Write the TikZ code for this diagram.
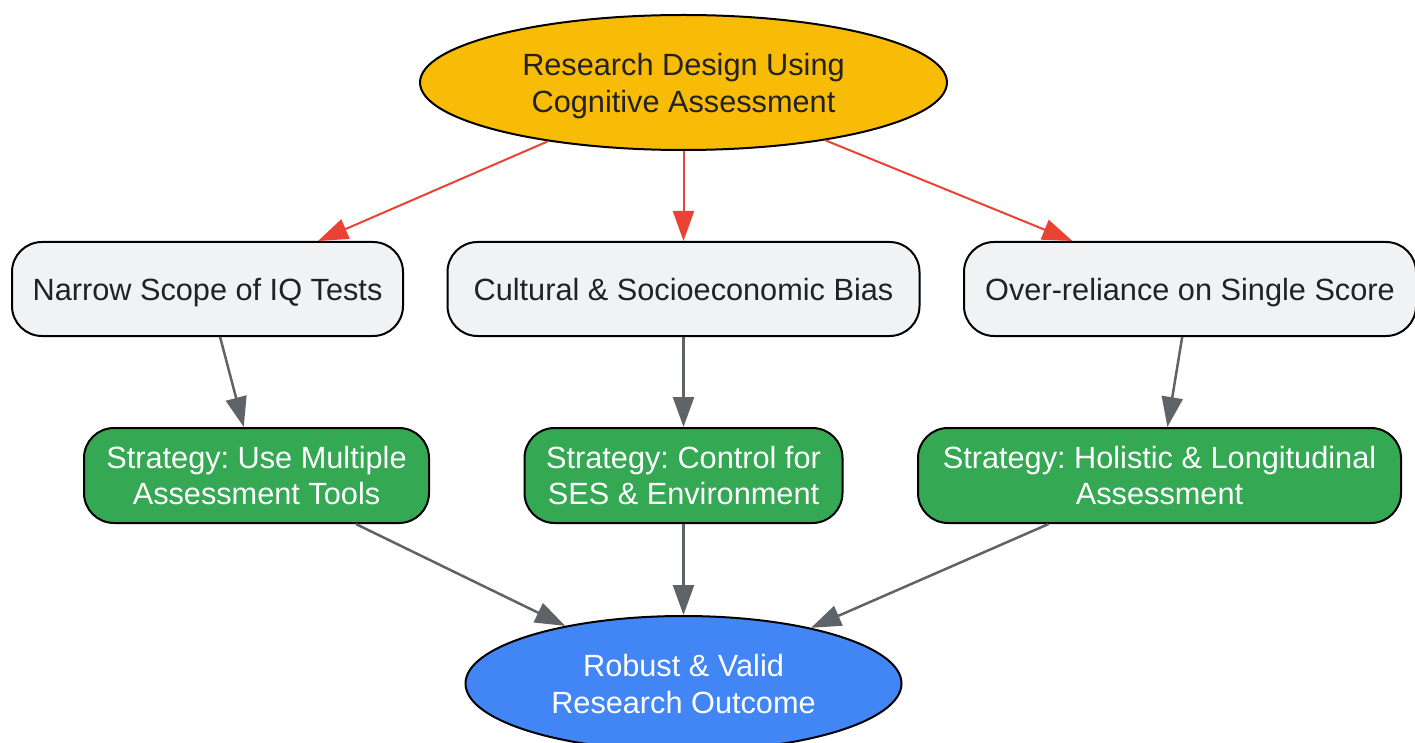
\documentclass[tikz,border=0pt]{standalone}
\usepackage{fontspec}
\setmainfont{Liberation Sans}
\usetikzlibrary{shapes.geometric,arrows.meta}
\definecolor{goldfill}{HTML}{F9BC06}
\definecolor{greyfill}{HTML}{F1F2F4}
\definecolor{greenfill}{HTML}{34A853}
\definecolor{bluefill}{HTML}{4285F4}
\definecolor{redline}{HTML}{EA4335}
\definecolor{greyline}{HTML}{5F6368}
\definecolor{inkdark}{HTML}{222222}
\frenchspacing
\begin{document}
\begin{tikzpicture}[x=1pt, y=-1pt, font=\fontsize{30.7}{36.8}\selectfont,
  oval/.style={ellipse, draw=black, line width=2pt, inner sep=0pt, align=center, text depth=0pt},
  issue/.style={rectangle, rounded corners=30pt, draw=black, line width=2pt, fill=greyfill, text=inkdark, minimum height=94pt, inner sep=0pt, align=center, text height=22pt, text depth=0pt},
  fix/.style={rectangle, rounded corners=30pt, draw=black, line width=2pt, fill=greenfill, text=white, minimum height=95pt, inner sep=0pt, align=center},
  cause/.style={-{Triangle[length=30pt,width=21pt]}, redline, line width=2pt},
  flow/.style={-{Triangle[length=30pt,width=21pt]}, greyline, line width=2.5pt}]
\useasboundingbox (0,0) rectangle (1415,743);

\node[oval, fill=goldfill, text=inkdark, minimum width=527pt, minimum height=135pt] (design) at (683.5,82.5) {Research Design Using\\Cognitive Assessment};

\node[issue, minimum width=391pt] (scope) at (207.5,289) {Narrow Scope of IQ Tests};
\node[issue, minimum width=472pt] (bias) at (683.5,289) {Cultural \& Socioeconomic Bias};
\node[issue, minimum width=452pt] (score) at (1190,289) {Over-reliance on Single Score};

\node[fix, minimum width=345pt] (tools) at (256.5,475.5) {Strategy: Use Multiple\\Assessment Tools};
\node[fix, minimum width=318pt] (ses) at (683.5,475.5) {Strategy: Control for\\SES \& Environment};
\node[fix, minimum width=483pt] (holistic) at (1159.5,475.5) {Strategy: Holistic \& Longitudinal\\Assessment};

\node[oval, fill=bluefill, text=white, minimum width=436pt, minimum height=135pt] (outcome) at (683.5,683.5) {Robust \& Valid\\Research Outcome};

\draw[cause] (design) -- (scope);
\draw[cause] (design) -- (bias);
\draw[cause] (design) -- (score);

\draw[flow] (scope) -- (tools);
\draw[flow] (bias) -- (ses);
\draw[flow] (score) -- (holistic);

\draw[flow] (tools) -- (outcome);
\draw[flow] (ses) -- (outcome);
\draw[flow] (holistic) -- (outcome);
\end{tikzpicture}
\end{document}
